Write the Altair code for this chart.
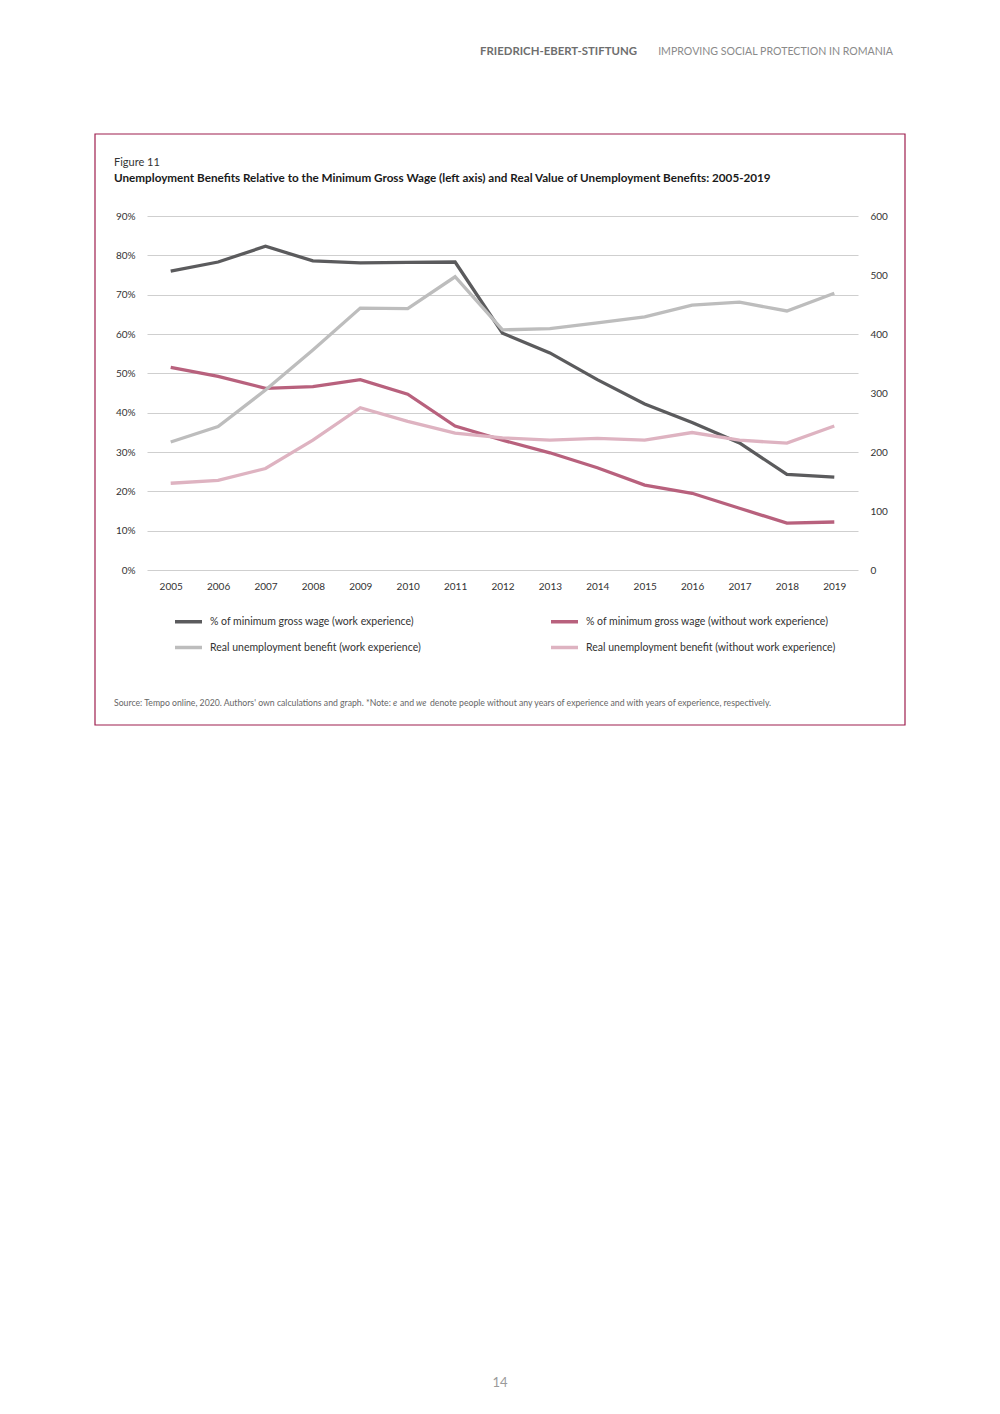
import altair as alt
import pandas as pd

years = list(range(2005, 2020))
pct_we = [76.0, 78.3, 82.3, 78.6, 78.1, 78.2, 78.3, 60.2, 55.2, 48.4, 42.2, 37.5, 32.3, 24.3, 23.6]
pct_e = [51.5, 49.2, 46.2, 46.6, 48.4, 44.7, 36.6, 33.0, 29.8, 26.0, 21.6, 19.5, 15.7, 11.9, 12.2]
real_we = [217, 243, 305, 373, 444, 443, 497, 407, 409, 419, 429, 449, 454, 439, 469]
real_e = [147, 152, 172, 220, 275, 252, 232, 224, 220, 223, 220, 233, 220, 215, 244]

s_pct_we = "% of minimum gross wage (work experience)"
s_pct_e = "% of minimum gross wage (without work experience)"
s_real_we = "Real unemployment benefit (work experience)"
s_real_e = "Real unemployment benefit (without work experience)"

# legend fills column by column: order so rows read as in the reference
legend_order = [s_pct_we, s_real_we, s_pct_e, s_real_e]
legend_colors = ["#5b5b5d", "#bdbdbd", "#b8617d", "#deb3c1"]

left_ticks = [0, 0.1, 0.2, 0.3, 0.4, 0.5, 0.6, 0.7, 0.8, 0.9]
right_ticks = [0, 100, 200, 300, 400, 500, 600]

header_org = "FRIEDRICH-EBERT-STIFTUNG"
header_doc = "IMPROVING SOCIAL PROTECTION IN ROMANIA"
fig_label = "Figure 11"
fig_title = "Unemployment Benefits Relative to the Minimum Gross Wage (left axis) and Real  Value of Unemployment Benefits: 2005-2019"
src_1 = "Source: Tempo online, 2020. Authors' own calculations and graph. *Note:"
src_e = "e"
src_and = "and"
src_we = "we"
src_rest = "denote people without any years of experience and with years of experience, respectively."
page_no = "14"

FONT = "Lato"

pct_df = pd.DataFrame({
    "year": [str(y) for y in years] * 2,
    "value": [v / 100 for v in pct_we] + [v / 100 for v in pct_e],
    "series": [s_pct_we] * len(years) + [s_pct_e] * len(years),
})
real_df = pd.DataFrame({
    "year": [str(y) for y in years] * 2,
    "value": real_we + real_e,
    "series": [s_real_we] * len(years) + [s_real_e] * len(years),
})

xenc = alt.X("year:O", scale=alt.Scale(type="point", padding=0.5),
             axis=alt.Axis(title=None, labelAngle=0, ticks=False, domain=False,
                           labelPadding=11, grid=False))
color_scale = alt.Scale(domain=legend_order, range=legend_colors)
color_enc = alt.Color(
    "series:N",
    scale=color_scale,
    legend=alt.Legend(
        title=None, orient="none", legendX=26, legendY=390, columns=2,
        symbolType="stroke", symbolSize=729, symbolStrokeWidth=3.5,
        labelFont=FONT, labelFontSize=10.5, labelColor="#333333",
        labelOffset=6, labelLimit=500, columnPadding=123, rowPadding=3,
        padding=0, symbolOpacity=1,
    ),
)

left = alt.Chart(pct_df).mark_line(strokeWidth=3.3).encode(
    x=xenc,
    y=alt.Y("value:Q", scale=alt.Scale(domain=[0, 0.9], nice=False),
            axis=alt.Axis(title=None, values=left_ticks, format=".0%", orient="left",
                          grid=True, gridColor="#cfcfcf", gridWidth=1, ticks=False,
                          domain=False, labelPadding=12)),
    color=color_enc,
)

right = alt.Chart(real_df).mark_line(strokeWidth=3.3).encode(
    x=xenc,
    y=alt.Y("value:Q", scale=alt.Scale(domain=[0, 600], nice=False),
            axis=alt.Axis(title=None, values=right_ticks, orient="right",
                          grid=False, ticks=False, domain=False, labelPadding=12)),
    color=alt.Color("series:N", scale=color_scale, legend=None),
)


def txt(s, x, y, size=10, color="#333333", weight="normal", align="left", style="normal"):
    return alt.Chart(pd.DataFrame({"t": [s]})).mark_text(
        font=FONT, fontSize=size, color=color, fontWeight=weight, align=align,
        baseline="middle", fontStyle=style,
    ).encode(text="t:N", x=alt.value(x), y=alt.value(y))


border = alt.Chart(pd.DataFrame({"t": [0]})).mark_rect(
    fillOpacity=0, stroke="#9e1f4e", strokeWidth=1.2
).encode(x=alt.value(-52), x2=alt.value(758), y=alt.value(-82), y2=alt.value(509))

SRC = 8.7
texts = [
    txt(header_org, 490, -164, size=11.4, color="#6e6e6e", weight="bold", align="right"),
    txt(header_doc, 746, -164, size=10.6, color="#8a8a8a", align="right"),
    txt(fig_label, -33, -53, size=11, color="#333333"),
    txt(fig_title, -33, -38, size=11.7, color="#1a1a1a", weight="bold"),
    txt(src_1, -33, 487, size=SRC, color="#666666"),
    txt(src_e, 246, 487, size=SRC, color="#666666", style="italic"),
    txt(src_and, 253, 487, size=SRC, color="#666666"),
    txt(src_we, 269, 487, size=SRC, color="#666666", style="italic"),
    txt(src_rest, 283, 487, size=SRC, color="#666666"),
    txt(page_no, 353, 1167, size=13, color="#9a9a9a", align="center"),
]

chart = alt.layer(left, right, border, *texts).resolve_scale(
    y="independent"
).properties(
    width=711, height=354,
    padding={"left": 139, "top": 208, "right": 130, "bottom": 820},
    autosize=alt.AutoSizeParams(type="none"),
    background="white",
).configure_view(strokeWidth=0).configure_axis(
    labelFont=FONT, labelFontSize=10, labelColor="#333333"
)

chart.save("out.html", embed_options={"renderer": "svg", "actions": False})
